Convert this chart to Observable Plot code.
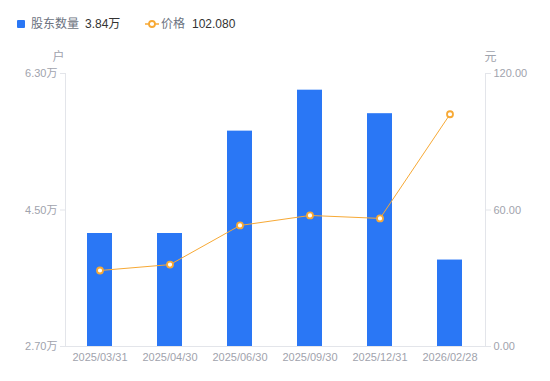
<!DOCTYPE html>
<html><head><meta charset="utf-8">
<script src="https://cdn.jsdelivr.net/npm/d3@7"></script>
<script src="https://cdn.jsdelivr.net/npm/@observablehq/plot@0.6"></script>
<style>
body{margin:0;background:#fff;font-family:"Liberation Sans","Noto Sans CJK SC",sans-serif;}
#legend{height:48px;position:relative;font-size:12px;width:550px;}
#legend span{position:absolute;top:16px;line-height:16px;white-space:nowrap;}
.sw{width:8px;height:8px;background:#2a77f5;border-radius:1px;top:20px!important;}
.lbl{color:#6b7280;}
.val{color:#333;}
#chart svg{display:block;}
</style></head><body>
<div id="legend">
  <span class="sw" style="left:17px"></span>
  <span class="lbl" style="left:31px">股东数量</span>
  <span class="val" style="left:85px">3.84万</span>
  <span style="left:145px;top:17px"><svg width="14" height="14"><line x1="0" y1="7" x2="14" y2="7" stroke="#f7a935" stroke-width="1.5"/><circle cx="7" cy="7" r="3" fill="#fff" stroke="#f7a935" stroke-width="1.8"/></svg></span>
  <span class="lbl" style="left:161px">价格</span>
  <span class="val" style="left:192px">102.080</span>
</div>
<div id="chart"></div>
<script>
const dates = ["2025/03/31","2025/04/30","2025/06/30","2025/09/30","2025/12/31","2026/02/28"];
const holders = [4.19, 4.19, 5.54, 6.08, 5.77, 3.84];   // 万户
const prices = [33.4, 36.0, 53.2, 57.6, 56.3, 102.08];  // 元
const leftTicks = [2.7, 4.5, 6.3];
const rightTicks = [0, 60, 120];

const yMin = 2.7, yMax = 6.3, pMax = 120;
const toLeft = p => yMin + p / pMax * (yMax - yMin);
const toRight = v => (v - yMin) / (yMax - yMin) * pMax;

const data = dates.map((d, i) => ({date: d, holders: holders[i], price: prices[i], pl: toLeft(prices[i])}));

const axisGray = "#e3e5ea";
const textGray = "#9fa3ad";
const orange = "#f7a935";

const chart = Plot.plot({
  width: 550,
  height: 333,
  marginTop: 25,
  marginBottom: 35,
  marginLeft: 65,
  marginRight: 65,
  style: {fontFamily: '"Liberation Sans","Noto Sans CJK SC",sans-serif', fontSize: "11px", background: "#fff"},
  x: {domain: dates, paddingInner: 0.64, paddingOuter: 0.32},
  y: {domain: [yMin, yMax]},
  marks: [
    Plot.barY(data, {x: "date", y1: () => yMin, y2: "holders", fill: "#2a77f5"}),
    Plot.ruleY([yMin], {stroke: axisGray}),
    Plot.frame({anchor: "left", stroke: axisGray}),
    Plot.frame({anchor: "right", stroke: axisGray}),
    Plot.axisY({anchor: "left", ticks: leftTicks, tickSize: 5, tickPadding: 3, stroke: axisGray, fill: textGray, tickFormat: d => d.toFixed(2) + "万", label: null}),
    Plot.axisY({anchor: "right", ticks: rightTicks.map(toLeft), tickSize: 5, tickPadding: 3, stroke: axisGray, fill: textGray, tickFormat: d => toRight(d).toFixed(2), label: null}),
    Plot.axisX({tickSize: 0, tickPadding: 7, fill: textGray, label: null}),
    Plot.line(data, {x: "date", y: "pl", stroke: orange, strokeWidth: 1}),
    Plot.dot(data, {x: "date", y: "pl", r: 3, fill: "#fff", stroke: orange, strokeWidth: 1.8}),
    Plot.text(["户"], {frameAnchor: "top-left", textAnchor: "middle", lineAnchor: "middle", dx: -7, dy: -16, fill: textGray, fontSize: 12}),
    Plot.text(["元"], {frameAnchor: "top-right", textAnchor: "middle", lineAnchor: "middle", dx: 5, dy: -16, fill: textGray, fontSize: 12})
  ]
});
document.getElementById("chart").appendChild(chart);
</script>
</body></html>
